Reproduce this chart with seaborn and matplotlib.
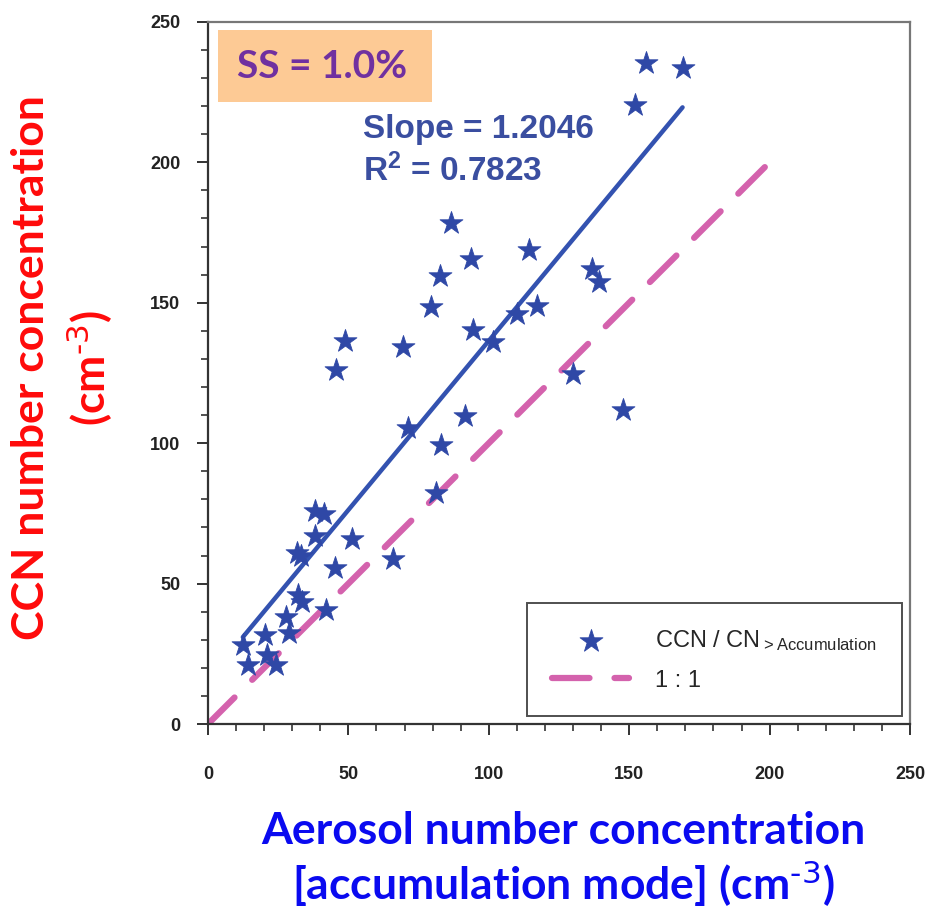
import numpy as np
import pandas as pd
import matplotlib
matplotlib.use("Agg")
import matplotlib.pyplot as plt
from matplotlib.ticker import MultipleLocator
from matplotlib.patches import Rectangle
import seaborn as sns

# Accumulation-mode aerosol number (x) vs CCN number (y), cm^-3
aerosol_accum = [152, 156, 169, 86.4, 93.7, 114.3, 82.6, 136.9, 139.2, 79.4,
                 117.0, 109.9, 94.5, 48.8, 69.3, 101.6, 45.6, 129.9, 147.9, 71.3,
                 91.5, 82.9, 81.2, 38.1, 41.3, 38.1, 51.2, 31.6, 33.0, 66.0,
                 45.2, 32.2, 33.4, 42.0, 27.8, 29.0, 20.3, 12.4, 20.9, 14.4, 24.2]
ccn_conc = [220.5, 235.5, 233.5, 178.5, 165.6, 168.7, 159.7, 162.1, 157.3, 148.4,
            149.0, 146.0, 140.2, 136.5, 134.4, 136.0, 126.2, 124.6, 111.7, 105.3,
            109.5, 99.4, 82.3, 75.7, 74.8, 67.0, 65.8, 60.8, 59.8, 58.7,
            55.5, 46.0, 43.6, 40.6, 38.2, 32.5, 31.7, 28.2, 24.6, 21.0, 21.0]

fit_slope = 1.2046
fit_intercept = 16.0
fit_r2 = 0.7823
one_to_one = [0, 200]

sns.set_style("white")
plt.rcParams["font.family"] = ["Liberation Sans", "DejaVu Sans"]
plt.rcParams["mathtext.default"] = "regular"

star_blue = "#2f48a6"
line_blue = "#3352b0"
pink = "#d462ad"
label_font = ["Lato", "DejaVu Sans"]

fig = plt.figure(figsize=(9.34, 9.13), dpi=100)
ax = fig.add_axes([0.2227, 0.207, 0.7516, 0.769])

df = pd.DataFrame({"x": aerosol_accum, "y": ccn_conc})

# 1:1 reference line
sns.lineplot(x=one_to_one, y=one_to_one, ax=ax, color=pink, lw=4.5,
             label="1 : 1", zorder=2)
ref_line = ax.lines[-1]
ref_line.set_linestyle((0, (6.0, 4.0)))
ref_line.set_dash_capstyle("round")

# least-squares fit line
fx = np.array([min(aerosol_accum), max(aerosol_accum)])
sns.lineplot(x=fx, y=fit_slope * fx + fit_intercept, ax=ax, color=line_blue,
             lw=3.2, label="_fit", zorder=3)

sns.scatterplot(data=df, x="x", y="y", ax=ax, marker="*", s=300,
                color=star_blue, edgecolor=star_blue, linewidth=0.6,
                label=r"CCN / CN$_{> Accumulation}$", zorder=4)

ax.set_xlim(0, 250)
ax.set_ylim(0, 250)
ax.xaxis.set_major_locator(MultipleLocator(50))
ax.xaxis.set_minor_locator(MultipleLocator(10))
ax.yaxis.set_major_locator(MultipleLocator(50))
ax.yaxis.set_minor_locator(MultipleLocator(10))
ax.tick_params(which="major", direction="out", length=8, width=1.3,
               colors="#222222", labelsize=13, bottom=True, left=True)
ax.tick_params(which="minor", direction="out", length=5, width=1.1,
               colors="#222222", bottom=True, left=True)
ax.tick_params(axis="x", which="major", pad=22)
ax.tick_params(axis="y", which="major", pad=12)
for lab in ax.get_xticklabels() + ax.get_yticklabels():
    lab.set_fontweight("bold")
for side, sp in ax.spines.items():
    sp.set_visible(True)
    sp.set_linewidth(1.6)
    sp.set_color("#333333" if side in ("left", "bottom") else "#777777")

ax.set_xlabel("Aerosol number concentration\n[accumulation mode] (cm$^{\\text{-3}}$)",
              color="#0a0af0", fontsize=32, fontweight="bold", family=label_font,
              linespacing=1.16)
ax.xaxis.set_label_coords(0.506, -0.124)
ax.set_ylabel("CCN number concentration\n(cm$^{\\text{-3}}$)",
              color="#ff0a0a", fontsize=32, fontweight="bold", family=label_font,
              linespacing=1.3)
ax.yaxis.set_label_coords(-0.133, 0.507)

# supersaturation tag
ax.add_patch(Rectangle((3.6, 221.5), 76.2, 25.7, facecolor="#fdca95",
                       edgecolor="none", zorder=1))
ax.text(10.5, 234.3, "SS = 1.0%", ha="left", va="center",
        fontsize=28, fontweight="bold", family=label_font, color="#7030a0", zorder=5)

# fit statistics
ax.text(55.3, 208.8, f"Slope = {fit_slope:.4f}", ha="left", va="baseline",
        fontsize=24, fontweight="bold", color="#3a4ea0", zorder=5)
ax.text(55.3, 193.2, f"R$^{{2}}$ = {fit_r2:.4f}", ha="left", va="baseline",
        fontsize=24, fontweight="bold", color="#3a4ea0", zorder=5)

handles, labels = ax.get_legend_handles_labels()
order = [labels.index(r"CCN / CN$_{> Accumulation}$"), labels.index("1 : 1")]
leg = ax.legend([handles[i] for i in order], [labels[i] for i in order],
                loc="lower right", bbox_to_anchor=(0.995, 0.004), fontsize=17,
                frameon=True, fancybox=False, edgecolor="#222222",
                borderpad=1.05, handlelength=3.3, handletextpad=1.1,
                labelspacing=0.72, borderaxespad=0.2)
leg.get_frame().set_linewidth(1.4)

fig.savefig("out.png", dpi=100)
